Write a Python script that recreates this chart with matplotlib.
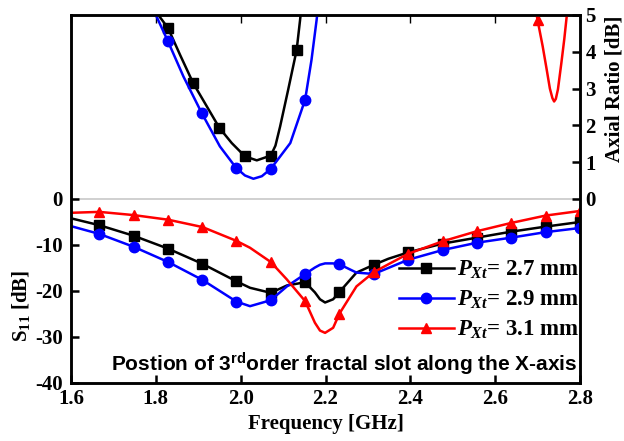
import numpy as np
import matplotlib
matplotlib.use('Agg')
import matplotlib.pyplot as plt

plt.rcParams['font.family'] = 'Liberation Serif'
plt.rcParams['font.weight'] = 'bold'
plt.rcParams['axes.unicode_minus'] = False
plt.rcParams['mathtext.fontset'] = 'custom'
plt.rcParams['mathtext.rm'] = 'Liberation Serif:bold'
plt.rcParams['mathtext.it'] = 'Liberation Serif:bold:italic'
plt.rcParams['mathtext.bf'] = 'Liberation Serif:bold'
plt.rcParams['mathtext.sf'] = 'Liberation Sans:bold'

# S11 curves [dB]
freq = [1.6, 1.667, 1.748, 1.829, 1.910, 1.990, 2.022, 2.071, 2.109, 2.152, 2.175, 2.187,
        2.199, 2.218, 2.233, 2.273, 2.314, 2.348, 2.395, 2.476, 2.557, 2.638, 2.719, 2.8]
s11_27 = [-4.2, -5.7, -8.0, -10.8, -14.1, -17.9, -19.3, -20.4, -18.8, -18.1, -20.3, -21.8,
          -22.5, -21.8, -20.2, -16.0, -14.3, -13.0, -11.6, -9.7, -8.4, -7.1, -6.0, -5.0]
s11_29 = [-5.9, -7.6, -10.4, -13.7, -17.6, -22.3, -23.3, -22.0, -19.0, -16.3, -14.9, -14.3,
          -14.0, -14.0, -14.2, -16.0, -16.3, -15.0, -13.2, -11.1, -9.5, -8.4, -7.2, -6.3]
s11_31 = [-3.0, -2.8, -3.5, -4.5, -6.1, -9.1, -10.6, -13.7, -17.5, -22.2, -26.9, -28.6,
          -29.1, -28.0, -24.9, -19.0, -15.9, -14.2, -11.9, -9.2, -7.0, -5.2, -3.6, -2.6]
s11_marks = [1, 2, 3, 4, 5, 7, 9, 14, 16, 18, 19, 20, 21, 22, 23]

# axial ratio curves [dB]
f_ar27 = [1.79, 1.806, 1.829, 1.857, 1.888, 1.950, 1.979, 2.010, 2.038, 2.071,
          2.082, 2.093, 2.112, 2.132, 2.140, 2.146]
ar27 = [5.5, 5.0, 4.64, 3.92, 3.15, 1.93, 1.52, 1.16, 1.05, 1.18, 1.45, 1.97, 2.97, 4.05, 4.86, 5.5]
ar27_marks = [2, 4, 5, 7, 9, 13]

f_ar29 = [1.785, 1.800, 1.828, 1.865, 1.908, 1.951, 1.989, 2.010, 2.030, 2.050, 2.071, 2.117,
          2.152, 2.167, 2.179, 2.185]
ar29 = [5.5, 5.0, 4.30, 3.33, 2.34, 1.43, 0.85, 0.64, 0.55, 0.62, 0.82, 1.52, 2.70, 3.78, 4.86, 5.5]
ar29_marks = [2, 4, 6, 10, 12]

f_ar31 = [2.690, 2.700, 2.712, 2.721, 2.729, 2.735, 2.739, 2.743, 2.748, 2.756, 2.763, 2.769, 2.775]
ar31 = [5.5, 4.86, 4.15, 3.55, 3.0, 2.74, 2.65, 2.72, 2.98, 3.69, 4.35, 5.0, 5.5]
ar31_marks = [1]

labels = [r'$P_{Xt}$= 2.7 mm', r'$P_{Xt}$= 2.9 mm', r'$P_{Xt}$= 3.1 mm']

fig = plt.figure(figsize=(6.24, 4.41), dpi=100)
ax = fig.add_axes([71/624, 1-383/441, 509/624, 368/441])
ax2 = ax.twinx()

ax.axhline(0, color='#c8c8c8', lw=1.2, zorder=0)

ms = 7.5
l1, = ax.plot(freq, s11_27, '-', color='black', lw=1.8, marker='s', ms=ms-0.5,
              markevery=s11_marks, label=labels[0])
l2, = ax.plot(freq, s11_29, '-', color='blue', lw=1.8, marker='o', ms=ms,
              markevery=s11_marks, label=labels[1])
l3, = ax.plot(freq, s11_31, '-', color='red', lw=1.8, marker='^', ms=ms,
              markevery=s11_marks, label=labels[2])

ax2.plot(f_ar27, ar27, '-', color='black', lw=1.8, marker='s', ms=ms-0.5, markevery=ar27_marks)
ax2.plot(f_ar29, ar29, '-', color='blue', lw=1.8, marker='o', ms=ms, markevery=ar29_marks)
ax2.plot(f_ar31, ar31, '-', color='red', lw=1.8, marker='^', ms=ms, markevery=ar31_marks)

ax.set_xlim(1.6, 2.8)
ax.set_ylim(-40, 40)
ax2.set_ylim(-5, 5)
ax.set_xticks([1.6, 1.8, 2.0, 2.2, 2.4, 2.6, 2.8])
ax.set_xticklabels(['1.6', '1.8', '2.0', '2.2', '2.4', '2.6', '2.8'])
ax.set_yticks([0, -10, -20, -30, -40])
ax2.set_yticks([0, 1, 2, 3, 4, 5])

for a in (ax, ax2):
    for s in a.spines.values():
        s.set_linewidth(1.8)
ax.tick_params(axis='both', direction='in', length=6, width=1.8, labelsize=15, pad=4)
ax.tick_params(axis='y', pad=6)
ax2.tick_params(axis='y', direction='in', length=6, width=1.8, labelsize=15, pad=4)
ax.tick_params(axis='x', top=True, labeltop=False)
for t in ax.xaxis.get_ticklines()[1::2]:
    t.set_color('#c8c8c8')
    t.set_markeredgewidth(1)

ax.set_xlabel('Frequency [GHz]', fontsize=15, fontweight='bold', labelpad=4)
ax.set_ylabel(r'S$_{11}$ [dB]', fontsize=15, fontweight='bold')
ax.yaxis.set_label_coords(-0.077, 0.21)
ax2.set_ylabel('Axial Ratio [dB]', fontsize=15, fontweight='bold')
ax2.yaxis.set_label_coords(1.049, 0.80)

ax.legend(handles=[l1, l2, l3], loc='upper right', bbox_to_anchor=(1.02, 0.365),
          frameon=False, fontsize=16.5, handlelength=2.4, handletextpad=0.15,
          labelspacing=0.33, borderaxespad=0.05)

ax.text(0.995, 0.035, r'Postion of 3$^{\mathsf{rd}}$order fractal slot along the X-axis',
        transform=ax.transAxes, ha='right', va='baseline', fontsize=15,
        family='Liberation Sans', fontweight='bold')

fig.savefig('out.png', dpi=100)
